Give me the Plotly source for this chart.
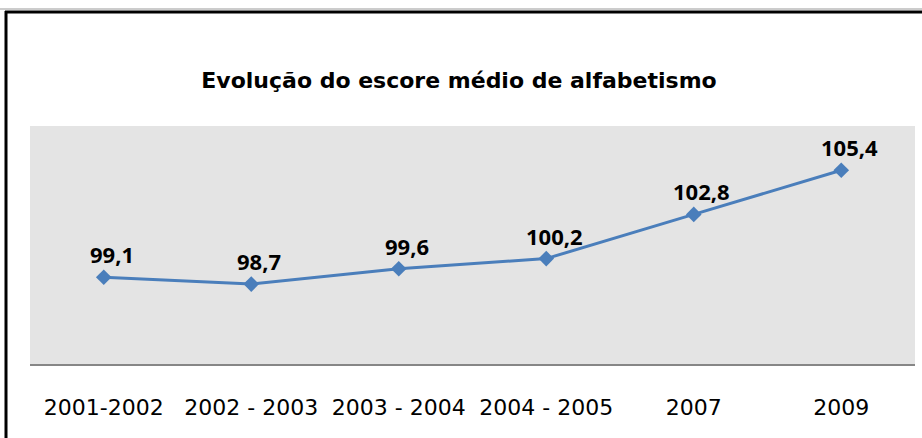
import plotly.graph_objects as go

categories = ["2001-2002", "2002 - 2003", "2003 - 2004", "2004 - 2005", "2007", "2009"]
values = [99.1, 98.7, 99.6, 100.2, 102.8, 105.4]
labels = ["99,1", "98,7", "99,6", "100,2", "102,8", "105,4"]
title_text = "Evolução do escore médio de alfabetismo"

W, H = 922, 438
L, R, T, B = 30, 7, 126, 74
pw, ph = W - L - R, H - T - B

def px_x(px):
    return (px - L) / pw

def px_y(py):
    return (H - B - py) / ph

BLUE = "#4a7ebb"

fig = go.Figure()
fig.add_trace(go.Scatter(
    x=list(range(len(categories))), y=values, mode="lines+markers",
    line=dict(color=BLUE, width=3),
    marker=dict(symbol="diamond", size=12, color=BLUE),
    hoverinfo="skip", showlegend=False,
))

for i, (v, lab) in enumerate(zip(values, labels)):
    fig.add_annotation(x=i, y=v, text=f"<b>{lab}</b>", showarrow=False,
                       xshift=8, yshift=23,
                       font=dict(family="Open Sans", size=22, color="black"))

shapes = [
    dict(type="line", xref="paper", yref="paper", x0=px_x(0), x1=px_x(W), y0=px_y(9), y1=px_y(9),
         line=dict(color="#999999", width=1)),
    dict(type="line", xref="paper", yref="paper", x0=px_x(5), x1=px_x(W), y0=px_y(12), y1=px_y(12),
         line=dict(color="black", width=3)),
    dict(type="line", xref="paper", yref="paper", x0=px_x(6), x1=px_x(6), y0=px_y(11), y1=px_y(H),
         line=dict(color="black", width=3)),
]

fig.update_layout(
    width=W, height=H,
    margin=dict(l=L, r=R, t=T, b=B),
    paper_bgcolor="white", plot_bgcolor="#e4e4e4",
    title=dict(text=f"<b>{title_text}</b>", x=459 / W, xanchor="center",
               y=1 - 80 / H, yanchor="middle",
               font=dict(family="DejaVu Sans", size=22, color="black")),
    shapes=shapes,
    xaxis=dict(range=[-0.5, len(categories) - 0.5], tickmode="array",
               tickvals=list(range(len(categories))), ticktext=categories,
               showgrid=False, zeroline=False, showline=True, linecolor="#868686", linewidth=1.5,
               ticks="", ticklabelstandoff=23,
               tickfont=dict(family="DejaVu Sans", size=22, color="black")),
    yaxis=dict(range=[94, 108], showgrid=False, zeroline=False, showticklabels=False, showline=False),
)

fig.write_html("out.html", config={"displayModeBar": False},
               post_script="document.body.style.margin='0';document.body.style.padding='0';")
